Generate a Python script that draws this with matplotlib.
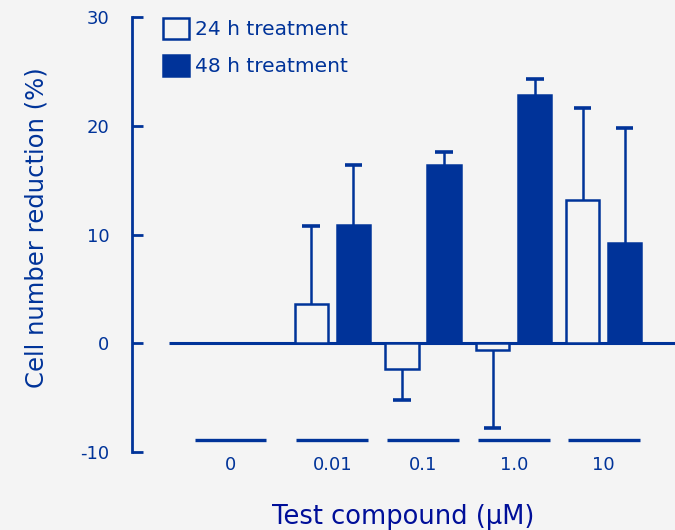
import matplotlib
matplotlib.use("Agg")
import matplotlib.pyplot as plt
from matplotlib.patches import Patch

plt.rcParams["axes.unicode_minus"] = False

# ---- data ----
doses = ["0", "0.01", "0.1", "1.0", "10"]
vals_24h = [0.0, 3.6, -2.4, -0.65, 13.15]
err_24h = [0.0, 7.2, 2.8, 7.15, 8.45]
vals_48h = [0.0, 10.9, 16.4, 22.8, 9.2]
err_48h = [0.0, 5.5, 1.2, 1.5, 10.6]
labels = ["24 h treatment", "48 h treatment"]

# ---- layout ----
positions = [0.0, 1.12, 2.12, 3.12, 4.11]
blue = "#003399"
navy = "#000f99"
bg = "#f4f4f4"
bw = 0.365
off = 0.232
capw = 0.19

fig = plt.figure(figsize=(6.75, 5.3), dpi=100, facecolor=bg)
ax = fig.add_axes([131.5 / 675, 1 - 452 / 530, 1 - 131.5 / 675, (452 - 17) / 530])
ax.set_facecolor(bg)
ax.set_xlim(-1.09, 4.895)
ax.set_ylim(-10, 30)

# zero line
ax.plot([-0.68, 5.0], [0, 0], color=blue, lw=2.2, zorder=1, solid_capstyle="butt")

x24 = [p - off for p in positions]
x48 = [p + off for p in positions]

ax.bar(x24, vals_24h, width=bw, facecolor=bg, edgecolor=blue, lw=1.8, zorder=3)
ax.bar(x48, vals_48h, width=bw, facecolor=blue, edgecolor=blue, lw=1.8, zorder=3)

# one-sided error bars (away from zero)
for xs, vs, es in [(x24, vals_24h, err_24h), (x48, vals_48h, err_48h)]:
    for x, v, e in zip(xs, vs, es):
        if e <= 0:
            continue
        end = v + e if v >= 0 else v - e
        ax.vlines(x, v, end, color=blue, lw=1.8, zorder=2)
        ax.hlines(end, x - capw / 2, x + capw / 2, color=blue, lw=2.6, zorder=2)

# group underlines
for p in positions:
    ax.plot([p - 0.395, p + 0.395], [-8.9, -8.9], color=blue, lw=2.4,
            solid_capstyle="butt", zorder=2)

# axes styling
for s in ["top", "right", "bottom"]:
    ax.spines[s].set_visible(False)
ax.spines["left"].set_color(blue)
ax.spines["left"].set_linewidth(2.0)
ax.set_yticks([-10, 0, 10, 20, 30])
ax.tick_params(axis="y", direction="in", length=8, width=2.0, color=blue,
               labelcolor=blue, labelsize=13, pad=16)
ax.set_xticks(positions)
ax.set_xticklabels(doses)
ax.tick_params(axis="x", length=0, labelcolor=blue, labelsize=13, pad=3)

fig.text(37 / 675, 1 - 228 / 530, "Cell number reduction (%)", rotation=90,
         ha="center", va="center", color=blue, fontsize=17.5)
fig.text(403 / 675, 1 - 517 / 530, "Test compound (\u03bcM)", ha="center",
         va="center", color=navy, fontsize=18.5)

handles = [Patch(facecolor=bg, edgecolor=blue, lw=1.8),
           Patch(facecolor=blue, edgecolor=blue, lw=1.8)]
leg = ax.legend(handles, labels, loc="upper left",
                bbox_to_anchor=(163 / 675, 1 - 18 / 530), bbox_transform=fig.transFigure,
                frameon=False, fontsize=14.5, handlelength=1.3, handleheight=1.2,
                handletextpad=0.3, labelspacing=0.8, borderaxespad=0, borderpad=0)
for t in leg.get_texts():
    t.set_color(blue)

fig.savefig("out.png", dpi=100, facecolor=bg)
